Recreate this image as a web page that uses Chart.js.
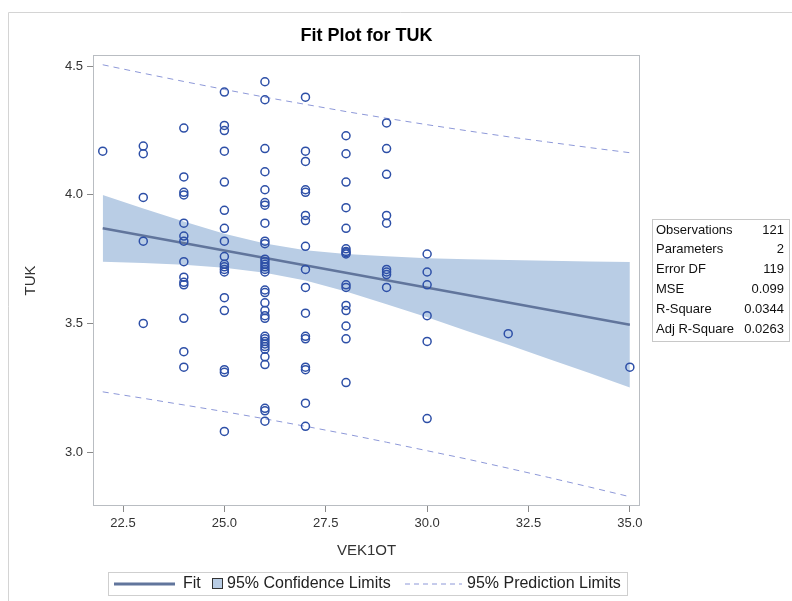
<!DOCTYPE html>
<html>
<head>
<meta charset="utf-8">
<script src="https://cdn.jsdelivr.net/npm/chart.js@4.4.1/dist/chart.umd.min.js"></script>
<style>
  html, body { margin: 0; padding: 0; background: #fff; }
  #wrap { width: 792px; height: 601px; }
</style>
</head>
<body>
<div id="wrap"><canvas id="fit" width="792" height="601"></canvas></div>
<script>
// Fit plot for TUK against VEK1OT

const columnX = [22, 23, 24, 25, 26, 27, 28, 29, 30, 32, 35];
const columnTuk = [
  [4.17],
  [4.19, 4.16, 3.99, 3.82, 3.50],
  [4.26, 4.07, 4.01, 4.00, 3.89, 3.84, 3.82, 3.74, 3.68, 3.66, 3.65, 3.52, 3.39, 3.33],
  [4.40, 4.27, 4.25, 4.17, 4.05, 3.94, 3.87, 3.82, 3.76, 3.73, 3.72, 3.71, 3.70, 3.60, 3.55, 3.32, 3.31, 3.08],
  [4.44, 4.37, 4.18, 4.09, 4.02, 3.97, 3.96, 3.89, 3.82, 3.81, 3.75, 3.74, 3.73, 3.72, 3.71, 3.70,
   3.63, 3.62, 3.58, 3.55, 3.53, 3.52, 3.45, 3.44, 3.43, 3.42, 3.41, 3.40, 3.37, 3.34, 3.17, 3.16, 3.12],
  [4.38, 4.17, 4.13, 4.02, 4.01, 3.92, 3.90, 3.80, 3.71, 3.64, 3.54, 3.45, 3.44, 3.33, 3.32, 3.19, 3.10],
  [4.23, 4.16, 4.05, 3.95, 3.87, 3.79, 3.78, 3.775, 3.77, 3.65, 3.64, 3.57, 3.55, 3.49, 3.44, 3.27],
  [4.28, 4.18, 4.08, 3.92, 3.89, 3.71, 3.70, 3.69, 3.64],
  [3.77, 3.70, 3.65, 3.53, 3.43, 3.13],
  [3.46],
  [3.33],
];

const fitX = [22, 35];
const fitY = [3.870, 3.495];

const bandX   = [22, 23, 24, 25, 26, 27, 28, 29, 30, 31, 32, 33, 34, 35];
const ciUpper = [4.000, 3.947, 3.896, 3.849, 3.811, 3.785, 3.770, 3.761, 3.754, 3.750, 3.747, 3.744, 3.741, 3.739];
const ciLower = [3.740, 3.735, 3.728, 3.717, 3.697, 3.667, 3.624, 3.575, 3.524, 3.470, 3.417, 3.362, 3.307, 3.251];
const piUpper = [4.506, 4.473, 4.441, 4.410, 4.380, 4.352, 4.324, 4.298, 4.273, 4.249, 4.226, 4.205, 4.184, 4.164];
const piLower = [3.234, 3.209, 3.183, 3.157, 3.129, 3.100, 3.070, 3.038, 3.005, 2.972, 2.937, 2.901, 2.864, 2.826];

const xTicks = [22.5, 25.0, 27.5, 30.0, 32.5, 35.0];
const yTicks = [3.0, 3.5, 4.0, 4.5];

const statLabels = ['Observations', 'Parameters', 'Error DF', 'MSE', 'R-Square', 'Adj R-Square'];
const statValues = ['121', '2', '119', '0.099', '0.0344', '0.0263'];

const FONT = 'Arial, "Liberation Sans", sans-serif';
const MARKER = '#2d4fa7';
const FIT_COLOR = '#61759c';
const BAND_COLOR = '#b9cde5';
const PI_COLOR = '#8d98d8';
const FRAME = '#b9bdc2';

Chart.defaults.font.family = FONT;
Chart.defaults.color = '#333';

const points = [];
columnX.forEach((x, i) => columnTuk[i].forEach(y => points.push({ x, y })));

const pairs = (xs, ys) => xs.map((x, i) => ({ x, y: ys[i] }));

/**
 * Frame, titles, fit statistics and legend
 */
const decor = {
  id: 'decor',
  afterDatasetsDraw(chart) {
    const { ctx, chartArea: a } = chart;
    ctx.save();
    ctx.strokeStyle = FRAME;
    ctx.lineWidth = 1;
    ctx.strokeRect(a.left + 0.5, a.top + 0.5, a.right - a.left - 1, a.bottom - a.top - 1);
    ctx.restore();
  },
  afterDraw(chart) {
    const { ctx, chartArea: a } = chart;
    const midX = (a.left + a.right) / 2;
    ctx.save();

    // outer border (top and left only show)
    ctx.strokeStyle = '#d4d4d4';
    ctx.lineWidth = 1;
    ctx.beginPath();
    ctx.moveTo(8.5, 601);
    ctx.lineTo(8.5, 12.5);
    ctx.lineTo(792, 12.5);
    ctx.stroke();

    // titles
    ctx.fillStyle = '#000';
    ctx.textAlign = 'center';
    ctx.textBaseline = 'middle';
    ctx.font = 'bold 18px ' + FONT;
    ctx.fillText('Fit Plot for TUK', midX, 36);

    ctx.fillStyle = '#333';
    ctx.font = '15px ' + FONT;
    ctx.fillText('VEK1OT', midX, 551);
    ctx.save();
    ctx.translate(31, (a.top + a.bottom) / 2);
    ctx.rotate(-Math.PI / 2);
    ctx.fillText('TUK', 0, 0);
    ctx.restore();

    // statistics table
    const tx = 652, ty = 219, tw = 137, th = 122, rowH = 19.8;
    ctx.strokeStyle = '#c8c8c8';
    ctx.strokeRect(tx + 0.5, ty + 0.5, tw, th);
    ctx.fillStyle = '#111';
    ctx.font = '13px ' + FONT;
    statLabels.forEach((label, i) => {
      const y = ty + 11 + i * rowH;
      ctx.textAlign = 'left';
      ctx.fillText(label, tx + 4, y);
      ctx.textAlign = 'right';
      ctx.fillText(statValues[i], tx + tw - 5, y);
    });

    // legend
    const lx = 108, ly = 572, lw = 519, lh = 23, cy = ly + lh / 2 + 0.5;
    ctx.strokeStyle = '#cfcfcf';
    ctx.strokeRect(lx + 0.5, ly + 0.5, lw, lh);
    ctx.font = '16px ' + FONT;
    ctx.fillStyle = '#222';
    ctx.textAlign = 'left';

    ctx.strokeStyle = FIT_COLOR;
    ctx.lineWidth = 3;
    ctx.beginPath();
    ctx.moveTo(114, cy);
    ctx.lineTo(175, cy);
    ctx.stroke();
    ctx.fillText('Fit', 183, cy);

    ctx.fillStyle = BAND_COLOR;
    ctx.fillRect(212, cy - 5, 10, 10);
    ctx.strokeStyle = '#333';
    ctx.lineWidth = 1;
    ctx.strokeRect(212.5, cy - 5.5, 10, 10);
    ctx.fillStyle = '#222';
    ctx.fillText('95% Confidence Limits', 227, cy);

    ctx.strokeStyle = PI_COLOR;
    ctx.setLineDash([5, 4]);
    ctx.beginPath();
    ctx.moveTo(405, cy);
    ctx.lineTo(462, cy);
    ctx.stroke();
    ctx.setLineDash([]);
    ctx.fillText('95% Prediction Limits', 467, cy);

    ctx.restore();
  },
};

new Chart(document.getElementById('fit'), {
  type: 'scatter',
  data: {
    datasets: [
      {
        label: 'TUK',
        data: points,
        pointStyle: 'circle',
        pointRadius: 4,
        pointBorderWidth: 1.5,
        pointBackgroundColor: 'rgba(0,0,0,0)',
        pointBorderColor: MARKER,
        showLine: false,
        order: 0,
      },
      {
        label: 'Fit',
        data: pairs(fitX, fitY),
        showLine: true,
        borderColor: FIT_COLOR,
        borderWidth: 2.5,
        pointRadius: 0,
        order: 1,
      },
      {
        label: '95% Prediction Limits',
        data: pairs(bandX, piUpper),
        showLine: true,
        borderColor: PI_COLOR,
        borderWidth: 1,
        borderDash: [6, 5],
        pointRadius: 0,
        order: 2,
      },
      {
        label: 'PI lower',
        data: pairs(bandX, piLower),
        showLine: true,
        borderColor: PI_COLOR,
        borderWidth: 1,
        borderDash: [6, 5],
        pointRadius: 0,
        order: 2,
      },
      {
        label: '95% Confidence Limits',
        data: pairs(bandX, ciUpper),
        showLine: true,
        borderWidth: 0,
        borderColor: BAND_COLOR,
        backgroundColor: BAND_COLOR,
        fill: '+1',
        pointRadius: 0,
        order: 3,
      },
      {
        label: 'CI lower',
        data: pairs(bandX, ciLower),
        showLine: true,
        borderWidth: 0,
        borderColor: BAND_COLOR,
        pointRadius: 0,
        order: 4,
      },
    ],
  },
  options: {
    responsive: false,
    animation: false,
    layout: { padding: { left: 0, top: 55, right: 152, bottom: 55 } },
    plugins: {
      legend: { display: false },
      tooltip: { enabled: false },
      title: { display: false },
    },
    scales: {
      x: {
        type: 'linear',
        min: 21.76,
        max: 35.25,
        afterBuildTicks: s => { s.ticks = xTicks.map(v => ({ value: v })); },
        afterFit: s => { s.height = 40; },
        ticks: { callback: v => v.toFixed(1), font: { size: 13 }, color: '#333', padding: 4, maxRotation: 0 },
        grid: { drawOnChartArea: false, drawTicks: true, tickLength: 6, color: '#8a8a8a' },
        border: { display: false },
      },
      y: {
        type: 'linear',
        min: 2.790,
        max: 4.544,
        afterBuildTicks: s => { s.ticks = yTicks.map(v => ({ value: v })); },
        afterFit: s => { s.width = 93; },
        ticks: { callback: v => v.toFixed(1), font: { size: 13 }, color: '#333', padding: 4 },
        grid: { drawOnChartArea: false, drawTicks: true, tickLength: 6, color: '#8a8a8a' },
        border: { display: false },
      },
    },
  },
  plugins: [decor],
});
</script>
</body>
</html>
